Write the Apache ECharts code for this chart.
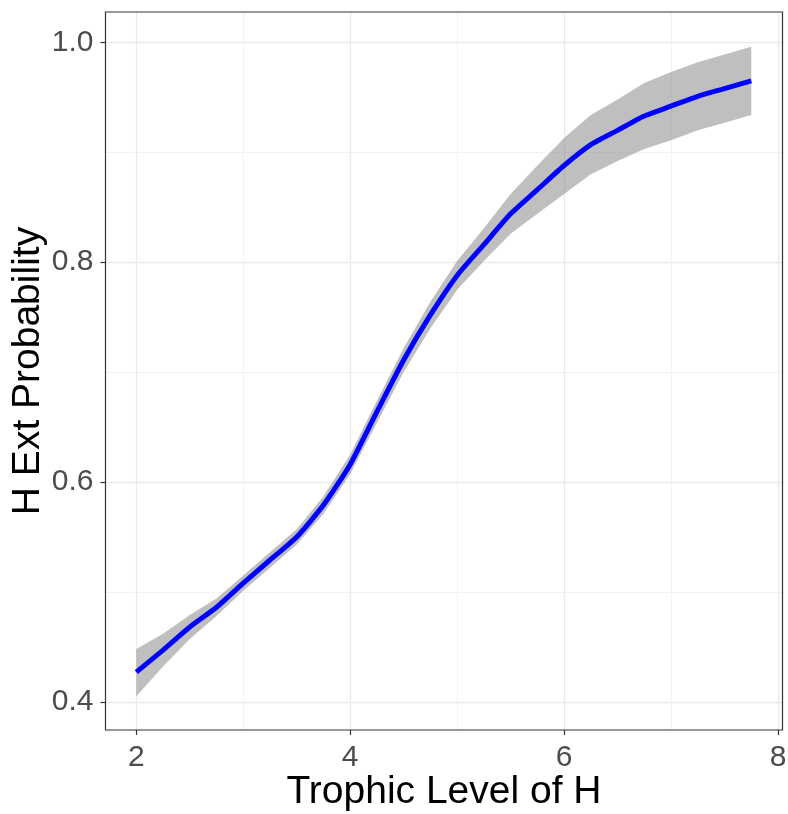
<!DOCTYPE html>
<html>
<head>
<meta charset="utf-8">
<script src="https://cdn.jsdelivr.net/npm/echarts@6/dist/echarts.min.js"></script>
<style>html,body{margin:0;padding:0;background:#fff}#c{width:788px;height:814px}</style>
</head>
<body>
<div id="c"></div>
<script>
// Data
const xValues = [2.0, 2.25, 2.5, 2.75, 3.0, 3.25, 3.5, 3.75, 4.0, 4.25, 4.5, 4.75, 5.0, 5.25, 5.5, 5.75, 6.0, 6.25, 6.5, 6.75, 7.0, 7.25, 7.5, 7.75];
const fitValues = [0.427, 0.447, 0.468, 0.486, 0.508, 0.529, 0.550, 0.579, 0.616, 0.664, 0.711, 0.752, 0.788, 0.816, 0.844, 0.866, 0.888, 0.907, 0.920, 0.933, 0.942, 0.951, 0.958, 0.965];
const lowerValues = [0.405, 0.432, 0.457, 0.478, 0.501, 0.522, 0.543, 0.571, 0.607, 0.654, 0.700, 0.740, 0.775, 0.801, 0.826, 0.844, 0.862, 0.880, 0.892, 0.903, 0.911, 0.920, 0.927, 0.934];
const upperValues = [0.448, 0.462, 0.479, 0.494, 0.515, 0.536, 0.557, 0.587, 0.625, 0.674, 0.722, 0.764, 0.801, 0.831, 0.862, 0.888, 0.913, 0.934, 0.948, 0.963, 0.973, 0.982, 0.989, 0.996];
const xTicks = [2, 4, 6, 8];
const xMinorTicks = [3, 5, 7];
const yTicks = [0.4, 0.6, 0.8, 1.0];
const yMinorTicks = [0.5, 0.7, 0.9];
const xTitle = 'Trophic Level of H';
const yTitle = 'H Ext Probability';

const X_MIN = 1.712, X_MAX = 8.042, Y_MIN = 0.3743, Y_MAX = 1.0277;
const FONT = 'Liberation Sans, Arial, sans-serif';

const bandData = xValues.map((x, i) => [x, lowerValues[i], upperValues[i]]);
const fitData = xValues.map((x, i) => [x, fitValues[i]]);

const chart = echarts.init(document.getElementById('c'), null, {renderer: 'canvas'});
chart.setOption({
  animation: false,
  backgroundColor: '#ffffff',
  grid: {left: 105.5, right: 5.5, top: 12, bottom: 84, containLabel: false, outerBoundsMode: 'none',
         show: true, borderColor: '#333333', borderWidth: 1.2, backgroundColor: 'transparent', z: 10},
  xAxis: [
    {
      type: 'value', min: X_MIN, max: X_MAX, gridIndex: 0,
      name: xTitle, nameLocation: 'middle', nameGap: 43, nameMoveOverlap: false,
      nameTextStyle: {fontFamily: FONT, fontSize: 39, color: '#000000'},
      axisLine: {show: false},
      axisTick: {show: true, length: 5, lineStyle: {color: '#333333', width: 1.2}, customValues: xTicks},
      axisLabel: {fontFamily: FONT, fontSize: 30, color: '#4D4D4D', margin: 13, customValues: xTicks, formatter: v => String(v)},
      splitLine: {show: true, lineStyle: {color: '#EBEBEB', width: 1.3}}
    },
    {
      type: 'value', min: X_MIN, max: X_MAX, gridIndex: 0,
      axisLine: {show: false},
      axisTick: {show: false, customValues: xMinorTicks},
      axisLabel: {show: false, customValues: xMinorTicks},
      splitLine: {show: true, lineStyle: {color: '#F2F2F2', width: 1}}
    }
  ],
  yAxis: [
    {
      type: 'value', min: Y_MIN, max: Y_MAX, gridIndex: 0,
      name: yTitle, nameLocation: 'middle', nameGap: 58, nameRotate: 90, nameMoveOverlap: false,
      nameTextStyle: {fontFamily: FONT, fontSize: 39, color: '#000000'},
      axisLine: {show: false},
      axisTick: {show: true, length: 5, lineStyle: {color: '#333333', width: 1.2}, customValues: yTicks},
      axisLabel: {fontFamily: FONT, fontSize: 30, color: '#4D4D4D', margin: 12, customValues: yTicks, formatter: v => v.toFixed(1)},
      splitLine: {show: true, lineStyle: {color: '#EBEBEB', width: 1.3}}
    },
    {
      type: 'value', min: Y_MIN, max: Y_MAX, gridIndex: 0, position: 'left',
      axisLine: {show: false},
      axisTick: {show: false, customValues: yMinorTicks},
      axisLabel: {show: false, customValues: yMinorTicks},
      splitLine: {show: true, lineStyle: {color: '#F2F2F2', width: 1}}
    }
  ],
  series: [
    {
      type: 'custom', data: bandData, silent: true, z: 2,
      encode: {x: 0, y: [1, 2]},
      renderItem: function (params, api) {
        if (params.dataIndex !== 0) return null;
        const top = bandData.map(d => api.coord([d[0], d[2]]));
        const bot = bandData.map(d => api.coord([d[0], d[1]])).reverse();
        return {
          type: 'polygon',
          shape: {points: top.concat(bot)},
          style: {fill: 'rgba(128,128,128,0.5)'}
        };
      }
    },
    {
      type: 'line', data: fitData, symbol: 'none', smooth: 0.2,
      lineStyle: {color: '#0000FF', width: 5}, z: 3
    }
  ]
});
</script>
</body>
</html>
